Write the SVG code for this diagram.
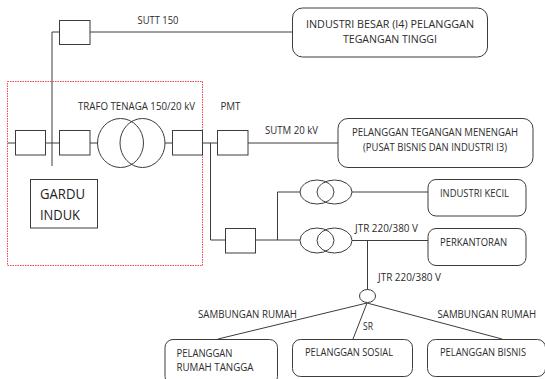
<svg xmlns="http://www.w3.org/2000/svg" width="545" height="379" viewBox="0 0 545 379">
<style>
.l{fill:none;stroke:#3c3c3c;stroke-width:1}
.n{fill:#fff;stroke:#3c3c3c;stroke-width:1}
.c{fill:none;stroke:#3c3c3c;stroke-width:1}
.r{fill:#fff;stroke:#3c3c3c;stroke-width:1}
text{font-family:"Open Sans","Liberation Sans",sans-serif;font-size:10px;fill:#2c2c2c}
.b{font-size:14px;fill:#222}
</style>
<rect width="545" height="379" fill="#fff"/>
<g id="connectors">
<path class="l" d="M59.5 32H52V166M90 32H292.5M7.5 143H15M45.5 143H59.5M90 143H97.5M165 143H172.5M202.5 143H217.5M248 143H338M210.5 143V240H225.5M255.5 240H300M277.5 240V192H300M352 192H428M352 240.5H428M367.5 240.5V290M367 303L218 339M367 303L353 339M367 303L502 339"/>
</g>
<rect id="gardu-boundary" x="7.5" y="81.5" width="195" height="184" fill="none" stroke="#f0484e" stroke-width="1" stroke-dasharray="1.5 1"/>
<g id="sw-top"><rect class="n" x="59.5" y="20.5" width="30.5" height="24"/></g>
<g id="sw-1"><rect class="n" x="15.5" y="130.5" width="30" height="24.5"/></g>
<g id="sw-2"><rect class="n" x="59.5" y="130.5" width="30.5" height="24.5"/></g>
<g id="trafo-tenaga"><ellipse class="c" cx="120.5" cy="143" rx="23" ry="24.5"/><ellipse class="c" cx="142.5" cy="143" rx="22.5" ry="24.5"/></g>
<g id="sw-3"><rect class="n" x="172.5" y="130.5" width="30" height="24.5"/></g>
<g id="pmt"><rect class="n" x="217.5" y="130.5" width="30.5" height="24.5"/></g>
<g id="gardu-induk"><rect class="n" x="30.5" y="179.5" width="67" height="48.5"/><text class="b" x="40" y="199" textLength="45" lengthAdjust="spacingAndGlyphs">GARDU</text><text class="b" x="40" y="220" textLength="40" lengthAdjust="spacingAndGlyphs">INDUK</text></g>
<g id="sw-low"><rect class="n" x="225.5" y="228.5" width="30" height="24.5"/></g>
<g id="trafo-a"><ellipse class="c" cx="317" cy="192" rx="17" ry="12"/><ellipse class="c" cx="334.5" cy="192" rx="17.5" ry="12"/></g>
<g id="trafo-b"><ellipse class="c" cx="317" cy="240.5" rx="17" ry="12.5"/><ellipse class="c" cx="334.5" cy="240.5" rx="17.5" ry="12.5"/></g>
<g id="junction"><ellipse class="n" cx="367.5" cy="296" rx="8" ry="6.5"/></g>
<g id="i4"><rect class="r" x="292.5" y="8" width="195" height="49" rx="10"/><text x="306" y="28" textLength="168" lengthAdjust="spacingAndGlyphs">INDUSTRI BESAR (I4) PELANGGAN</text><text x="343" y="43" textLength="94" lengthAdjust="spacingAndGlyphs">TEGANGAN TINGGI</text></g>
<g id="i3"><rect class="r" x="338" y="118.5" width="195" height="49" rx="10"/><text x="352" y="136" textLength="166" lengthAdjust="spacingAndGlyphs">PELANGGAN TEGANGAN MENENGAH</text><text x="363" y="151" textLength="144" lengthAdjust="spacingAndGlyphs">(PUSAT BISNIS DAN INDUSTRI I3)</text></g>
<g id="industri-kecil"><rect class="r" x="428" y="179.5" width="98" height="36.5" rx="8"/><text x="440" y="197" textLength="69" lengthAdjust="spacingAndGlyphs">INDUSTRI KECIL</text></g>
<g id="perkantoran"><rect class="r" x="428" y="228.5" width="98" height="37" rx="8"/><text x="440" y="246" textLength="67" lengthAdjust="spacingAndGlyphs">PERKANTORAN</text></g>
<g id="rumah-tangga"><rect class="r" x="165" y="339.5" width="112.5" height="45" rx="8"/><text x="176.500" y="357" textLength="56" lengthAdjust="spacingAndGlyphs">PELANGGAN</text><text x="176.500" y="371" textLength="77" lengthAdjust="spacingAndGlyphs">RUMAH TANGGA</text></g>
<g id="sosial"><rect class="r" x="292.5" y="339.5" width="120" height="37" rx="8"/><text x="305" y="356" textLength="88" lengthAdjust="spacingAndGlyphs">PELANGGAN SOSIAL</text></g>
<g id="bisnis"><rect class="r" x="427.5" y="339.5" width="118" height="37" rx="8"/><text x="440" y="356" textLength="86" lengthAdjust="spacingAndGlyphs">PELANGGAN BISNIS</text></g>
<g id="labels">
<text x="137.5" y="24" textLength="41" lengthAdjust="spacingAndGlyphs">SUTT 150</text>
<text x="78" y="110" textLength="117" lengthAdjust="spacingAndGlyphs">TRAFO TENAGA 150/20 kV</text>
<text x="220.5" y="110" textLength="20" lengthAdjust="spacingAndGlyphs">PMT</text>
<text x="265" y="134" textLength="53" lengthAdjust="spacingAndGlyphs">SUTM 20 kV</text>
<text x="355" y="232" textLength="63" lengthAdjust="spacingAndGlyphs">JTR 220/380 V</text>
<text x="378" y="281" textLength="63" lengthAdjust="spacingAndGlyphs">JTR 220/380 V</text>
<text x="198" y="318" textLength="99" lengthAdjust="spacingAndGlyphs">SAMBUNGAN RUMAH</text>
<text x="437.5" y="318" textLength="98.500" lengthAdjust="spacingAndGlyphs">SAMBUNGAN RUMAH</text>
<text x="363" y="330" textLength="10" lengthAdjust="spacingAndGlyphs">SR</text>
</g>
</svg>
